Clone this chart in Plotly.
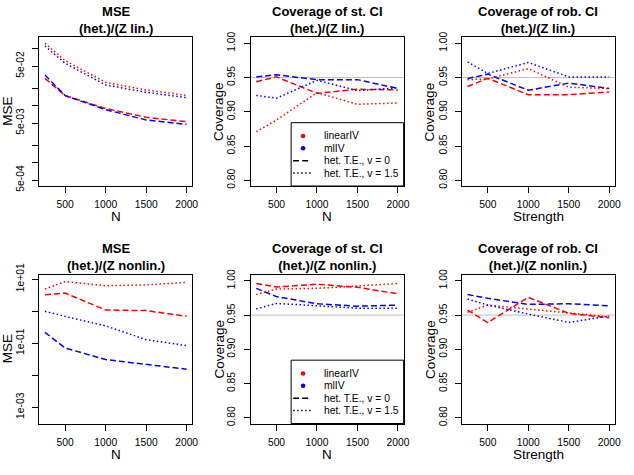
import plotly.graph_objects as go

# ---------------- data ----------------
N = [250, 500, 1000, 1500, 2000]

# MSE, Z linear
mse_lin_linearIV_v0 = [0.0304, 0.0151, 0.0090, 0.0063, 0.00527]
mse_lin_mlIV_v0 = [0.0348, 0.0151, 0.0086, 0.00565, 0.00474]
mse_lin_linearIV_v15 = [0.125, 0.062, 0.0259, 0.0190, 0.0153]
mse_lin_mlIV_v15 = [0.112, 0.0557, 0.0232, 0.0173, 0.0139]

# MSE, Z nonlinear
mse_nl_linearIV_v0 = [3.3, 3.7, 1.1, 1.05, 0.70]
mse_nl_mlIV_v0 = [0.22, 0.071, 0.031, 0.0216, 0.0155]
mse_nl_linearIV_v15 = [5.0, 8.5, 6.3, 6.7, 8.0]
mse_nl_mlIV_v15 = [1.0, 0.69, 0.35, 0.13, 0.085]

# Coverage of standard CI, Z linear
st_lin_linearIV_v0 = [0.944, 0.951, 0.927, 0.933, 0.932]
st_lin_mlIV_v0 = [0.951, 0.954, 0.947, 0.947, 0.934]
st_lin_linearIV_v15 = [0.871, 0.888, 0.928, 0.911, 0.913]
st_lin_mlIV_v15 = [0.924, 0.920, 0.946, 0.931, 0.935]

# Coverage of robust CI, Z linear
rob_lin_linearIV_v0 = [0.937, 0.949, 0.925, 0.925, 0.929]
rob_lin_mlIV_v0 = [0.9485, 0.955, 0.9315, 0.942, 0.934]
rob_lin_linearIV_v15 = [0.947, 0.948, 0.963, 0.936, 0.934]
rob_lin_mlIV_v15 = [0.973, 0.956, 0.972, 0.951, 0.951]

# Coverage of standard CI, Z nonlinear
st_nl_linearIV_v0 = [0.996, 0.991, 0.995, 0.9905, 0.981]
st_nl_mlIV_v0 = [0.989, 0.977, 0.9665, 0.963, 0.9646]
st_nl_linearIV_v15 = [0.980, 0.988, 0.989, 0.993, 0.996]
st_nl_mlIV_v15 = [0.959, 0.967, 0.9636, 0.960, 0.960]

# Coverage of robust CI, Z nonlinear
rob_nl_linearIV_v0 = [0.9573, 0.939, 0.9759, 0.9525, 0.946]
rob_nl_mlIV_v0 = [0.980, 0.9744, 0.9656, 0.9665, 0.9636]
rob_nl_linearIV_v15 = [0.954, 0.9646, 0.9588, 0.9534, 0.9475]
rob_nl_mlIV_v15 = [0.9734, 0.9646, 0.9515, 0.9393, 0.9485]

titles = [
    "MSE<br>(het.)/(Z lin.)",
    "Coverage of st. CI<br>(het.)/(Z lin.)",
    "Coverage of rob. CI<br>(het.)/(Z lin.)",
    "MSE<br>(het.)/(Z nonlin.)",
    "Coverage of st. CI<br>(het.)/(Z nonlin.)",
    "Coverage of rob. CI<br>(het.)/(Z nonlin.)",
]
xlabels = ["N", "N", "Strength", "N", "N", "Strength"]
ylabels = ["MSE", "Coverage", "Coverage", "MSE", "Coverage", "Coverage"]

legend_labels = ["linearIV", "mlIV", "het. T.E., v = 0", "het. T.E., v = 1.5"]

x_ticks = [500, 1000, 1500, 2000]
cov_ticks = [0.80, 0.85, 0.90, 0.95, 1.00]
mse_lin_ticks = [1e-1, 5e-2, 2e-2, 1e-2, 5e-3, 2e-3, 1e-3, 5e-4]
mse_lin_ticktext = ["", "5e-02", "", "", "5e-03", "", "", "5e-04"]
mse_nl_ticks = [1e1, 1e0, 1e-1, 1e-2, 1e-3]
mse_nl_ticktext = ["1e+01", "", "1e-01", "", "1e-03"]

panels = [
    [mse_lin_linearIV_v0, mse_lin_mlIV_v0, mse_lin_linearIV_v15, mse_lin_mlIV_v15],
    [st_lin_linearIV_v0, st_lin_mlIV_v0, st_lin_linearIV_v15, st_lin_mlIV_v15],
    [rob_lin_linearIV_v0, rob_lin_mlIV_v0, rob_lin_linearIV_v15, rob_lin_mlIV_v15],
    [mse_nl_linearIV_v0, mse_nl_mlIV_v0, mse_nl_linearIV_v15, mse_nl_mlIV_v15],
    [st_nl_linearIV_v0, st_nl_mlIV_v0, st_nl_linearIV_v15, st_nl_mlIV_v15],
    [rob_nl_linearIV_v0, rob_nl_mlIV_v0, rob_nl_linearIV_v15, rob_nl_mlIV_v15],
]

# ---------------- layout geometry (pixels) ----------------
W, H = 634, 475
col_left = [39.3, 250.6, 461.9]
row_top = [37.0, 274.5]
pw, ph = 153.0, 149.0

RED = "#FF0000"
BLUE = "#0000FF"
FONT = "Liberation Sans, Arial, Helvetica, sans-serif"
TICKFONT = dict(family=FONT, size=10.3, color="black")

fig = go.Figure()
layout = dict(
    width=W, height=H,
    margin=dict(l=0, r=0, t=0, b=0, autoexpand=False),
    paper_bgcolor="white", plot_bgcolor="white",
    showlegend=False,
    font=dict(family=FONT, color="black"),
)
annotations = []
shapes = []

styles = [(RED, "6px,3px"), (BLUE, "6px,3px"), (RED, "1.5px,2.5px"), (BLUE, "1.5px,2.5px")]

for i in range(6):
    r, c = divmod(i, 3)
    k = i + 1
    xs = "" if k == 1 else str(k)
    x0p = col_left[c]
    y0p = row_top[r]
    xdom = [x0p / W, (x0p + pw) / W]
    ydom = [1 - (y0p + ph) / H, 1 - y0p / H]

    for series, (col, dash) in zip(panels[i], styles):
        fig.add_trace(go.Scatter(
            x=N, y=series, mode="lines",
            line=dict(color=col, width=1.5, dash=dash),
            xaxis="x" + xs, yaxis="y" + xs, hoverinfo="skip",
        ))

    common = dict(
        showline=True, mirror=True, linecolor="black", linewidth=1,
        ticks="outside", ticklen=6, tickwidth=1, tickcolor="black",
        showgrid=False, zeroline=False, tickfont=TICKFONT, automargin=False,
    )
    layout["xaxis" + xs] = dict(
        domain=xdom, anchor="y" + xs, range=[180, 2070],
        tickvals=x_ticks, ticktext=[str(v) for v in x_ticks],
        ticklabelstandoff=3, **common,
    )
    if c == 0:
        if r == 0:
            yax = dict(type="log", range=[-3.406, -0.792],
                       tickvals=mse_lin_ticks, ticktext=mse_lin_ticktext)
        else:
            yax = dict(type="log", range=[-3.506, 1.15],
                       tickvals=mse_nl_ticks, ticktext=mse_nl_ticktext)
    else:
        yax = dict(range=[0.7918, 1.0092], tickvals=cov_ticks,
                   ticktext=["%.2f" % v for v in cov_ticks])
        shapes.append(dict(
            type="line", xref="x" + xs + " domain", yref="y" + xs,
            x0=0, x1=1, y0=0.95, y1=0.95,
            line=dict(color="#BEBEBE", width=1), layer="below",
        ))
    layout["yaxis" + xs] = dict(domain=ydom, anchor="x" + xs, tickangle=-90,
                                ticklabelstandoff=4, **yax, **common)

    cx = (x0p + pw / 2) / W
    # title
    annotations.append(dict(
        text="<b>" + titles[i].replace("<br>", "</b><br><b>") + "</b>",
        xref="paper", yref="paper", x=cx, y=1 - (y0p - 17.3) / H,
        xanchor="center", yanchor="middle", showarrow=False,
        font=dict(family=FONT, size=13, color="black"),
    ))
    # x label
    annotations.append(dict(
        text=xlabels[i], xref="paper", yref="paper", x=cx,
        y=1 - (y0p + ph + 30.5) / H, xanchor="center", yanchor="middle",
        showarrow=False, font=dict(family=FONT, size=13.5, color="black"),
    ))
    # y label
    annotations.append(dict(
        text=ylabels[i], xref="paper", yref="paper", x=(x0p - 32) / W,
        y=1 - (y0p + ph / 2) / H, xanchor="center", yanchor="middle",
        textangle=-90, showarrow=False,
        font=dict(family=FONT, size=13.5, color="black"),
    ))

    # legend box in coverage-of-st.-CI panels
    if c == 1:
        xr = "x" + xs + " domain"
        yr = "y" + xs + " domain"
        shapes.append(dict(type="rect", xref=xr, yref=yr, x0=0.265, x1=1.0,
                           y0=0.0, y1=0.425, line=dict(color="black", width=1),
                           fillcolor="white", layer="above"))
        rows = [0.336, 0.253, 0.170, 0.087]
        for j, col in enumerate([RED, BLUE]):
            shapes.append(dict(type="circle", xref=xr, yref=yr,
                               xsizemode="pixel", ysizemode="pixel",
                               xanchor=0.343, yanchor=rows[j],
                               x0=-2.3, x1=2.3, y0=-2.3, y1=2.3,
                               fillcolor=col, line=dict(width=0), layer="above"))
        for j, dash in [(2, "6px,3px"), (3, "1.5px,2.5px")]:
            shapes.append(dict(type="line", xref=xr, yref=yr,
                               x0=0.278, x1=0.395, y0=rows[j], y1=rows[j],
                               line=dict(color="black", width=1.5, dash=dash),
                               layer="above"))
        for j, lab in enumerate(legend_labels):
            annotations.append(dict(
                text=lab, xref=xr, yref=yr, x=0.467, y=rows[j],
                xanchor="left", yanchor="middle", showarrow=False,
                font=dict(family=FONT, size=10.3, color="black"),
            ))

layout["annotations"] = annotations
layout["shapes"] = shapes
fig.update_layout(**layout)
fig.write_html(
    "out.html",
    config={"displayModeBar": False},
    post_script="document.body.style.margin='0';document.body.style.overflow='hidden';",
)
